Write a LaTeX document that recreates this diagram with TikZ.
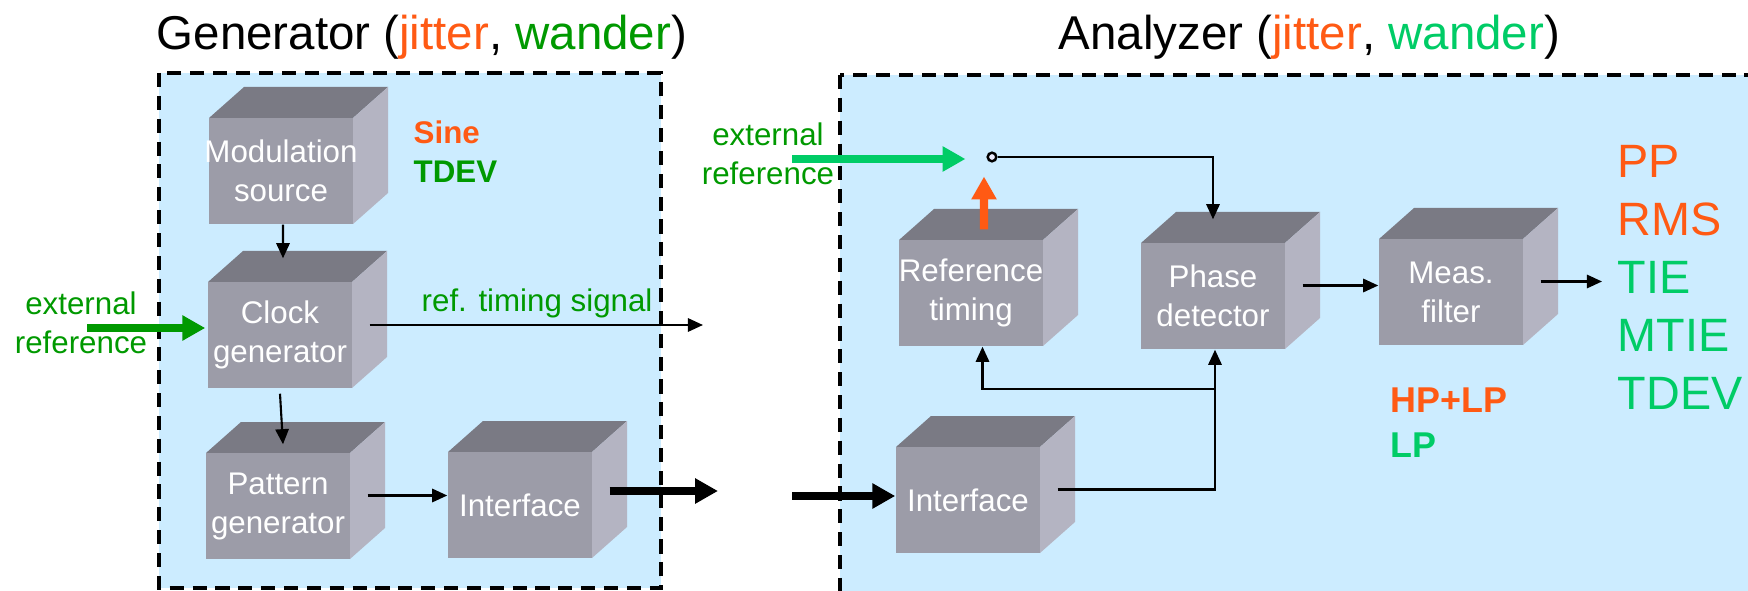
\documentclass[tikz,border=0pt]{standalone}
\usepackage{fontspec}
\setmainfont{Liberation Sans}
\usetikzlibrary{arrows.meta}
\definecolor{panelblue}{RGB}{204,236,255}
\definecolor{jitterorange}{RGB}{255,90,20}
\definecolor{wandergreen}{RGB}{0,153,0}
\definecolor{wanderlight}{RGB}{0,204,102}
\definecolor{cubefront}{RGB}{156,156,168}
\definecolor{cubetop}{RGB}{122,122,132}
\definecolor{cubeside}{RGB}{180,180,194}

\begin{document}
\begin{tikzpicture}[x=0.01cm, y=-0.01cm,
  panel/.style={fill=panelblue, draw=black, line width=0.9pt, dash pattern=on 4pt off 2.5pt},
  cubeface/.style={rectangle, fill=cubefront, minimum width=1.44cm, minimum height=1.06cm, inner sep=0pt},
  cubelabel/.style={text=white, align=center, inner sep=0pt, font=\fontsize{8.9}{11.1}\selectfont},
  note/.style={inner sep=0pt, font=\fontsize{8.9}{11.1}\selectfont},
  sig/.style={-{Triangle[length=4.3pt,width=3.8pt]}, line width=0.6pt},
  bus/.style={-{Triangle[length=6.5pt,width=6.8pt]}, line width=2pt}]
  \def\cw{144}
  \def\ch{106}
  \def\dx{35}
  \def\dy{31}

  % Fixed bounding box
  \path[use as bounding box] (0,0) rectangle (1748,591);
  \clip (0,0) rectangle (1748,591);

  % Generator and analyzer panels
  \draw[panel] (159,73) rectangle (661,588);
  \draw[panel] (840,75) rectangle (1770,610);

  % Titles
  \node[anchor=base west, inner sep=0pt, font=\fontsize{13.5}{16}\selectfont] (gentitle) at (156,50)
    {Generator (\textcolor{jitterorange}{jitter}, \textcolor{wandergreen}{wander})};
  \node[anchor=base west, inner sep=0pt, font=\fontsize{13.5}{16}\selectfont] (anatitle) at (1058,50)
    {Analyzer (\textcolor{jitterorange}{jitter}, \textcolor{wanderlight}{wander})};

  % Draw the cubes
  \foreach \nm/\cx/\cy/\txt in {mod/281/171/{Modulation\\source}, clk/280/335/{Clock\\generator},
      pat/278/506/{Pattern\\generator}, gint/520/505/{Interface}, reft/971/293/{Reference\\timing},
      phd/1213/296/{Phase\\detector}, aint/968/500/{Interface}, meas/1451/292/{Meas.\\filter}} {
    \fill[cubetop] (\cx-\cw/2,\cy-\ch/2) -- ++(\dx,-\dy) -- ++(\cw,0) -- ++(-\dx,\dy) -- cycle;
    \fill[cubeside] (\cx+\cw/2,\cy-\ch/2) -- ++(\dx,-\dy) -- ++(0,\ch) -- ++(-\dx,\dy) -- cycle;
    \node[cubeface] (\nm) at (\cx,\cy) {};
    \node[cubelabel] (\nm-t) at (\nm) {\txt};
    \coordinate (\nm-s) at (\cx+\cw/2+\dx/2,\cy-\dy/2+5);
  }

  % Generator side
  \node[note, anchor=north west, align=left, font=\bfseries\fontsize{8.9}{11}\selectfont] (modtype) at (413,120)
    {\textcolor{jitterorange}{Sine}\\\textcolor{wandergreen}{TDEV}};
  \draw[sig] ([xshift=0.02cm]mod.south) -- ([xshift=0.03cm,yshift=0.23cm]clk.north);
  \draw[sig] ([yshift=-0.05cm]clk.south) -- ([xshift=0.05cm,yshift=0.08cm]pat.north);
  \draw[sig] (pat-s) -- (gint.west |- pat-s);

  \node[note, text=wandergreen, align=center] (extgen) at (81,323) {external\\reference};
  \coordinate (extgentail) at (87,328);
  \draw[bus, wandergreen] (extgentail) -- ([xshift=-0.02cm]clk.west |- extgentail);

  \coordinate (rtsend) at (703,325);
  \draw[sig] (clk-s |- rtsend) -- (rtsend);
  \node[note, anchor=base west, text=wandergreen] (rtslabel) at (421,311) {ref. timing signal};

  \coordinate (genout) at (718,491);
  \draw[bus] (gint-s |- genout) -- (genout);
  \coordinate (anain) at (792,496);
  \draw[bus] (anain) -- (aint.west |- anain);

  % Analyzer side
  \node[circle, draw, fill=black!15!blue!8, minimum size=0.086cm, inner sep=0pt, line width=0.7pt] (sw) at (992,157) {};
  \node[note, text=wandergreen, align=center] (extana) at (768,154) {external\\reference};
  \coordinate (extanatail) at (792,159);
  \draw[bus, wanderlight] (extanatail) -- ([xshift=-0.21cm]sw.west |- extanatail);
  \draw[bus, jitterorange, line width=2.3pt] ([xshift=0.13cm,yshift=0.1cm]reft.north) -- ([xshift=-0.08cm,yshift=-0.14cm]sw.south);
  \draw[sig] (sw.east) -| ([yshift=0.23cm]phd.north);

  \draw[sig] (aint-s) -| ([xshift=0.02cm]phd.south);
  \coordinate (fb) at (1215,389);
  \draw[sig] (fb) -| ([xshift=0.115cm]reft.south);
  \draw[sig] (phd-s) -- (meas.west |- phd-s);

  \node[note, anchor=north west, align=left, font=\bfseries\fontsize{10.2}{12.8}\selectfont] (filttype) at (1390,387)
    {\textcolor{jitterorange}{HP+LP}\\\textcolor{wanderlight}{LP}};
  \node[note, anchor=north west, align=left, font=\fontsize{13.3}{16.5}\selectfont] (metrics) at (1617,145)
    {\textcolor{jitterorange}{PP}\\\textcolor{jitterorange}{RMS}\\\textcolor{wanderlight}{TIE}\\\textcolor{wanderlight}{MTIE}\\\textcolor{wanderlight}{TDEV}};
  \draw[sig] (meas-s) -- ([xshift=-0.15cm]metrics.west |- meas-s);

\end{tikzpicture}
\end{document}
